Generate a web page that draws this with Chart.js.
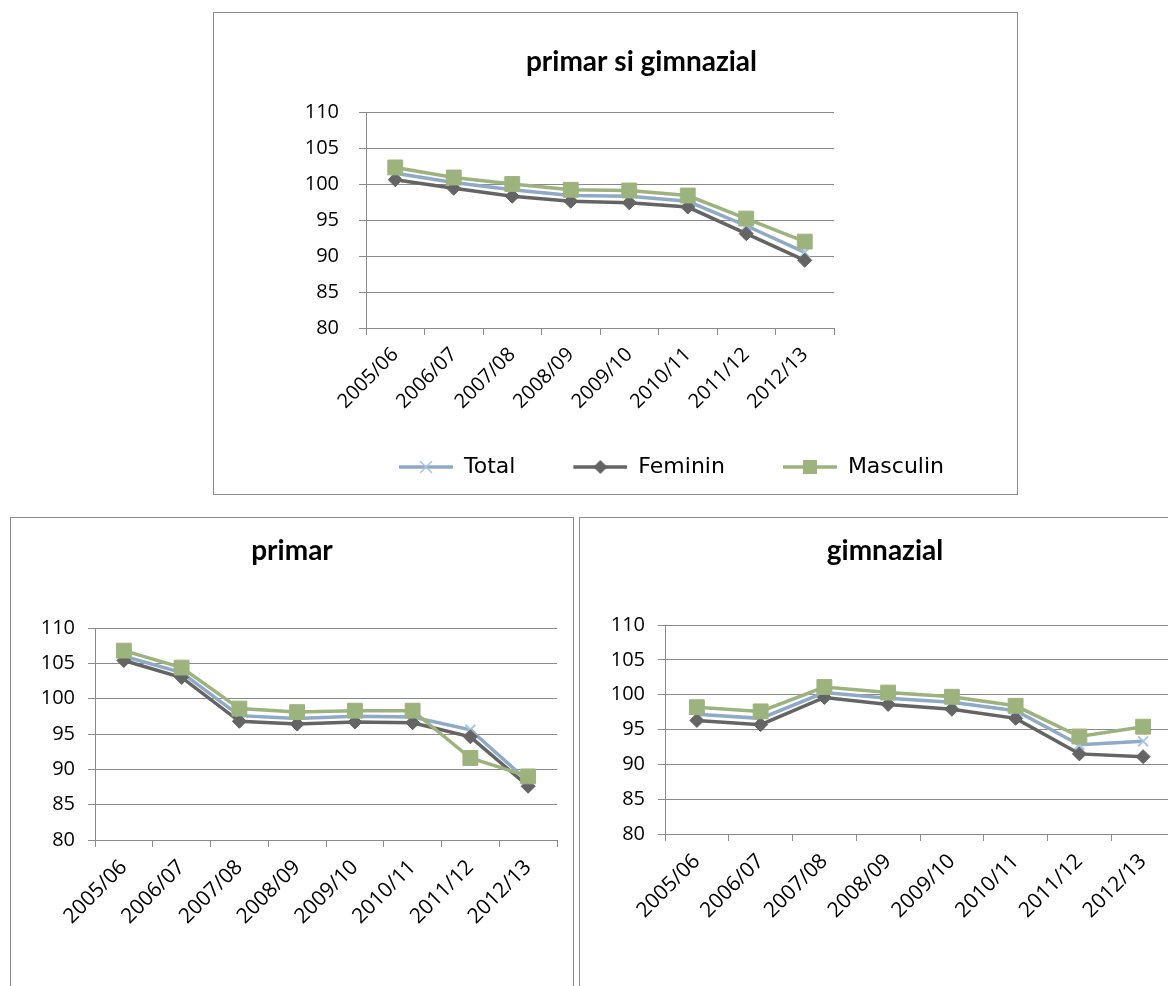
<!DOCTYPE html>
<html>
<head>
<meta charset="utf-8">
<title>primar si gimnazial</title>
<script src="https://cdn.jsdelivr.net/npm/chart.js@4.4.1/dist/chart.umd.min.js"></script>
<style>
  html, body { margin: 0; padding: 0; background: #fff; overflow: hidden; width: 1168px; height: 986px; }
  .box { position: absolute; border: 1px solid #8c8c8c; background: #fff; box-sizing: border-box; }
  .box canvas { display: block; }
</style>
</head>
<body>
<div class="box" style="left:213px; top:12px; width:805px; height:483px;"><canvas id="cTop" width="803" height="481"></canvas></div>
<div class="box" style="left:10px; top:517px; width:564px; height:490px;"><canvas id="cPrimar" width="562" height="488"></canvas></div>
<div class="box" style="left:579px; top:517px; width:612px; height:490px;"><canvas id="cGimn" width="610" height="488"></canvas></div>

<script>
// school years on the x axis
const years = ['2005/06', '2006/07', '2007/08', '2008/09', '2009/10', '2010/11', '2011/12', '2012/13'];
const seriesNames = ['Total', 'Feminin', 'Masculin'];
const yTicks = [80, 85, 90, 95, 100, 105, 110];

// primar si gimnazial
const totalPG    = [101.5, 100.2, 99.2, 98.4, 98.3, 97.6, 94.2, 90.5];
const femininPG  = [100.6, 99.4, 98.3, 97.6, 97.4, 96.8, 93.1, 89.4];
const masculinPG = [102.3, 100.9, 100.0, 99.2, 99.1, 98.4, 95.2, 92.0];

// primar
const totalP    = [106.0, 103.7, 97.6, 97.2, 97.5, 97.4, 95.6, 88.3];
const femininP  = [105.4, 103.0, 96.8, 96.4, 96.7, 96.6, 94.6, 87.6];
const masculinP = [106.8, 104.4, 98.6, 98.1, 98.3, 98.3, 91.6, 89.0];

// gimnazial
const totalG    = [97.2, 96.6, 100.3, 99.5, 98.9, 97.7, 92.8, 93.3];
const femininG  = [96.3, 95.7, 99.6, 98.6, 97.9, 96.6, 91.5, 91.1];
const masculinG = [98.2, 97.6, 101.1, 100.3, 99.7, 98.4, 94.0, 95.4];

const GRID = '#8a8a8a';
const C_TOTAL = '#8eaac6', C_TOTAL_PT = '#a9c6e6';
const C_FEM = '#646464';
const C_MASC = '#9db37e';

Chart.defaults.font.family = "'Open Sans', sans-serif";
Chart.defaults.color = '#000';

// line+marker sample like the excel legend, with empty space on the left
// so the items get spread out without a big legend padding
const GAP = 48;
function swatch(color, marker, markerColor) {
  const c = document.createElement('canvas');
  c.width = 54 + GAP; c.height = 18;
  const g = c.getContext('2d');
  g.translate(GAP, 0);
  g.strokeStyle = color; g.lineWidth = 3.5;
  g.beginPath(); g.moveTo(0, 9); g.lineTo(54, 9); g.stroke();
  g.fillStyle = markerColor; g.strokeStyle = markerColor;
  if (marker === 'rect') {
    g.fillRect(20, 2, 14, 14);
  } else if (marker === 'rectRot') {
    g.beginPath(); g.moveTo(27, 2); g.lineTo(34, 9); g.lineTo(27, 16); g.lineTo(20, 9); g.closePath(); g.fill();
  } else {
    g.lineWidth = 1.5;
    g.beginPath(); g.moveTo(21, 3); g.lineTo(33, 15); g.moveTo(33, 3); g.lineTo(21, 15); g.stroke();
  }
  return c;
}
const swatches = [
  swatch(C_TOTAL, 'crossRot', C_TOTAL_PT),
  swatch(C_FEM, 'rectRot', C_FEM),
  swatch(C_MASC, 'rect', C_MASC)
];

// move title / legend sideways (they are not centred on the box in the original)
const nudge = {
  id: 'nudge',
  afterLayout(chart, args, opts) {
    if (opts.title && chart.titleBlock) { chart.titleBlock.left += opts.title; chart.titleBlock.right += opts.title; }
    if (opts.legend && chart.legend) { chart.legend.left += opts.legend; chart.legend.right += opts.legend; }
  }
};

function makeDatasets(total, feminin, masculin) {
  return [
    { label: seriesNames[0], data: total, borderColor: C_TOTAL, backgroundColor: C_TOTAL_PT,
      pointStyle: 'crossRot', pointRadius: 7, pointBorderWidth: 2, pointBorderColor: C_TOTAL_PT, order: 2 },
    { label: seriesNames[1], data: feminin, borderColor: C_FEM, backgroundColor: C_FEM,
      pointStyle: 'rectRot', pointRadius: 7, pointBorderWidth: 1, pointBorderColor: C_FEM, order: 1 },
    { label: seriesNames[2], data: masculin, borderColor: C_MASC, backgroundColor: C_MASC,
      pointStyle: 'rect', pointRadius: 10.5, pointBorderWidth: 1, pointBorderColor: C_MASC, order: 0 }
  ];
}

function makeChart(id, title, total, feminin, masculin, L) {
  new Chart(document.getElementById(id), {
    type: 'line',
    data: { labels: years, datasets: makeDatasets(total, feminin, masculin) },
    plugins: [nudge],
    options: {
      responsive: false,
      animation: false,
      events: [],
      elements: { line: { borderWidth: 3.5, tension: 0 } },
      layout: { padding: { top: 0, left: 0, right: 0, bottom: L.padB } },
      scales: {
        x: {
          offset: true,
          grid: { offset: true, drawOnChartArea: false, drawTicks: true, tickLength: 7, color: GRID },
          border: { display: true, color: GRID },
          ticks: { minRotation: 45, maxRotation: 45, autoSkip: false, padding: 8, font: { size: L.xFont } },
          afterFit: s => { s.height = L.xH; }
        },
        y: {
          min: yTicks[0], max: yTicks[yTicks.length - 1],
          afterBuildTicks: s => { s.ticks = yTicks.map(v => ({ value: v })); },
          ticks: { padding: L.yPad, font: { size: 20 } },
          grid: { color: GRID, tickLength: 7 },
          border: { color: GRID },
          afterFit: s => { s.width = L.yW; }
        },
        yRight: {
          position: 'right',
          grid: { display: false },
          ticks: { display: false },
          border: { display: false },
          afterFit: s => { s.width = L.rW; }
        }
      },
      plugins: {
        tooltip: { enabled: false },
        title: {
          display: true, text: title, color: '#000',
          font: { family: "'Lato', sans-serif", size: 28, weight: 'bold' },
          padding: { top: L.tTop, bottom: L.tBottom }
        },
        legend: {
          display: !!L.legend,
          position: 'bottom',
          labels: {
            usePointStyle: true, pointStyleWidth: 54 + GAP, padding: 10, color: '#000',
            font: { family: "'DejaVu Sans', sans-serif", size: 22 },
            generateLabels: chart => {
              const items = Chart.defaults.plugins.legend.labels.generateLabels(chart);
              items.forEach(it => { it.pointStyle = swatches[it.datasetIndex]; });
              return items;
            },
            sort: (a, b) => a.datasetIndex - b.datasetIndex
          }
        },
        nudge: { title: L.titleDx || 0, legend: L.legendDx || 0 }
      }
    }
  });
}

makeChart('cTop', 'primar si gimnazial', totalPG, femininPG, masculinPG,
  { yW: 152, rW: 183, xH: 118, xFont: 20, yPad: 20, padB: 6, tTop: 32.2, tBottom: 33.2,
    legend: true, titleDx: 26, legendDx: 32 });

makeChart('cPrimar', 'primar', totalP, femininP, masculinP,
  { yW: 84, rW: 16, xH: 120, xFont: 21, yPad: 13, padB: 46, tTop: 16.2, tBottom: 60.2 });

makeChart('cGimn', 'gimnazial', totalG, femininG, masculinG,
  { yW: 85, rW: 15, xH: 120, xFont: 21, yPad: 13, padB: 52, tTop: 16.2, tBottom: 57.2 });
</script>
</body>
</html>
